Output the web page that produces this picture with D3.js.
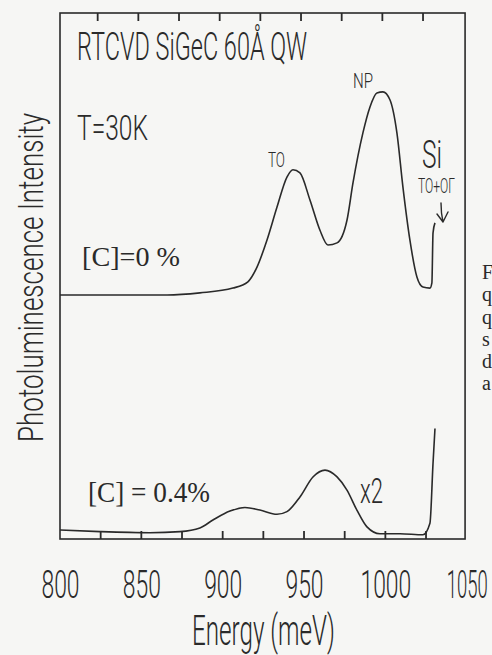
<!DOCTYPE html>
<html lang="en">
<head>
<meta charset="UTF-8">
<title>RTCVD SiGeC 60Å QW photoluminescence</title>
<script src="https://cdnjs.cloudflare.com/ajax/libs/d3/7.9.0/d3.min.js"></script>
<style>
  html, body { margin: 0; padding: 0; background: #f6f6f4; }
  svg { display: block; }
  .plot { font-family: Roboto, "DejaVu Sans", sans-serif; font-weight: 300; fill: #2a2a2a; }
  .serif { font-family: "Liberation Serif", "DejaVu Serif", serif; font-weight: 400; fill: #2a2a2a; }
</style>
</head>
<body>
<svg id="chart" width="492" height="655"></svg>
<script>
// energy axis (meV)
const labelTicks = [800, 850, 900, 950, 1000, 1050];
const minorTicks = [825, 850, 875, 900, 925, 950, 975, 1000, 1025];

// [C]=0 % spectrum (energy meV, intensity a.u., curve drawn with its vertical offset)
const energy0 = [800, 865.8, 886.0, 906.3, 915.5, 921.1, 927.2, 933.4, 939.5, 943.2, 947.5,
  953.7, 959.8, 964.7, 970.3, 976.4, 980.1, 986.2, 990.5, 994.8, 998.5, 1002.8, 1007.1,
  1010.8, 1015.1, 1019.4, 1023.1, 1027.4, 1028.6, 1029.3, 1030.5];
const intensity0 = [46.4, 46.4, 46.8, 47.7, 48.9, 51.7, 56.8, 63.1, 68.8, 70.2, 69.6,
  64.4, 58.7, 55.9, 56.3, 60.6, 67.7, 77.2, 82.1, 84.8, 85.0, 83.5, 77.2,
  66.9, 56.8, 49.8, 47.9, 47.7, 48.7, 58.2, 60.1];

// [C]=0.4 % spectrum (x2)
const energy4 = [800, 824.6, 855.3, 873.8, 886.0, 894.0, 904.5, 913.7, 922.9, 933.4, 939.5,
  947.5, 955.5, 962.9, 970.3, 976.4, 982.5, 988.7, 996.7, 1009.0, 1023.1, 1027.4, 1029.3, 1030.5];
const intensity4 = [1.7, 1.4, 1.2, 1.4, 2.1, 3.6, 5.3, 6.0, 5.5, 4.7, 5.2,
  8.0, 11.8, 13.1, 11.8, 9.3, 5.5, 2.3, 1.0, 1.0, 0.8, 3.0, 14.4, 21.0];

const svg = d3.select("#chart");
const ink = "#2a2a2a";

const x = d3.scaleLinear().domain([800, 1050]).range([60, 466.7]);
const y = d3.scaleLinear().domain([0, 100]).range([539, 13]);
const xEnd = 1049;

// frame
svg.append("rect")
  .attr("x", x(800)).attr("y", y(100))
  .attr("width", x(xEnd) - x(800)).attr("height", y(0) - y(100))
  .attr("fill", "none").attr("stroke", ink).attr("stroke-width", 1.6);

// inward ticks on top and bottom edges
const tickG = svg.append("g");
minorTicks.forEach(t => {
  tickG.append("path")
    .attr("d", `M${x(t)},${y(0)}V${y(0) - 8}`)
    .attr("stroke", ink).attr("stroke-width", 1.8).attr("fill", "none");
  tickG.append("path")
    .attr("d", `M${x(t) - 3},${y(100)}V${y(100) + 8}`)
    .attr("stroke", ink).attr("stroke-width", 1.8).attr("fill", "none");
});

// tick labels
svg.append("g")
  .attr("transform", `translate(0,${y(0)})`)
  .call(d3.axisBottom(x).tickValues(labelTicks).tickSize(0).tickPadding(59).tickFormat(d3.format("d")))
  .call(g => g.select(".domain").remove())
  .call(g => g.selectAll("text")
    .attr("class", "plot")
    .attr("font-size", 39)
    .attr("dy", 0)
    .attr("fill", ink)
    .attr("textLength", d => d === 1050 ? 41 : String(d).length * 12.7)
    .attr("lengthAdjust", "spacingAndGlyphs"));

// spectra
const line = d3.line().x(d => x(d[0])).y(d => y(d[1])).curve(d3.curveMonotoneX);
[[energy0, intensity0], [energy4, intensity4]].forEach(([e, v]) => {
  svg.append("path")
    .datum(e.map((d, i) => [d, v[i]]))
    .attr("d", line)
    .attr("fill", "none")
    .attr("stroke", ink)
    .attr("stroke-width", 1.6)
    .attr("stroke-linejoin", "round");
});

// labels: [text, x, baseline, width, font size, class]
const labels = [
  ["RTCVD SiGeC 60Å QW", 77, 60, 230, 39, "plot"],
  ["T=30K", 77, 140, 71, 35, "plot"],
  ["[C]=0 %", 82, 266, 98, 27, "serif"],
  ["[C] = 0.4%", 88, 502, 122, 29, "serif"],
  ["x2", 360, 503, 23, 35, "plot"],
  ["TO", 268, 167, 17, 21, "plot"],
  ["NP", 353, 88, 20, 21, "plot"],
  ["Si", 422, 168, 20, 39, "plot"],
  ["TO+OΓ", 418, 193, 37, 21, "plot"],
  ["Energy (meV)", 192, 645, 143, 42, "plot"]
];
labels.forEach(([t, lx, ly, w, fs, cls]) => {
  svg.append("text")
    .attr("class", cls)
    .attr("x", lx).attr("y", ly)
    .attr("font-size", fs)
    .attr("textLength", w)
    .attr("lengthAdjust", "spacingAndGlyphs")
    .text(t);
});

// y axis title
svg.append("text")
  .attr("class", "plot")
  .attr("transform", "translate(43,442) rotate(-90)")
  .attr("font-size", 35)
  .attr("textLength", 329)
  .attr("lengthAdjust", "spacingAndGlyphs")
  .text("Photoluminescence Intensity");

// arrow pointing at the Si TO+OΓ shoulder
svg.append("path")
  .attr("d", "M441,203 Q441,213 443,222 M437,214 L443,222 L448,212")
  .attr("fill", "none").attr("stroke", ink).attr("stroke-width", 1.4)
  .attr("stroke-linecap", "round").attr("stroke-linejoin", "round");

// fragment of the neighbouring page column
const margin = ["F", "q", "q", "s", "d", "a"];
const marginY = [279, 301, 324, 346, 368, 390];
margin.forEach((c, i) => {
  svg.append("text")
    .attr("class", "serif")
    .attr("x", 482).attr("y", marginY[i])
    .attr("font-size", 20)
    .text(c);
});
</script>
</body>
</html>
